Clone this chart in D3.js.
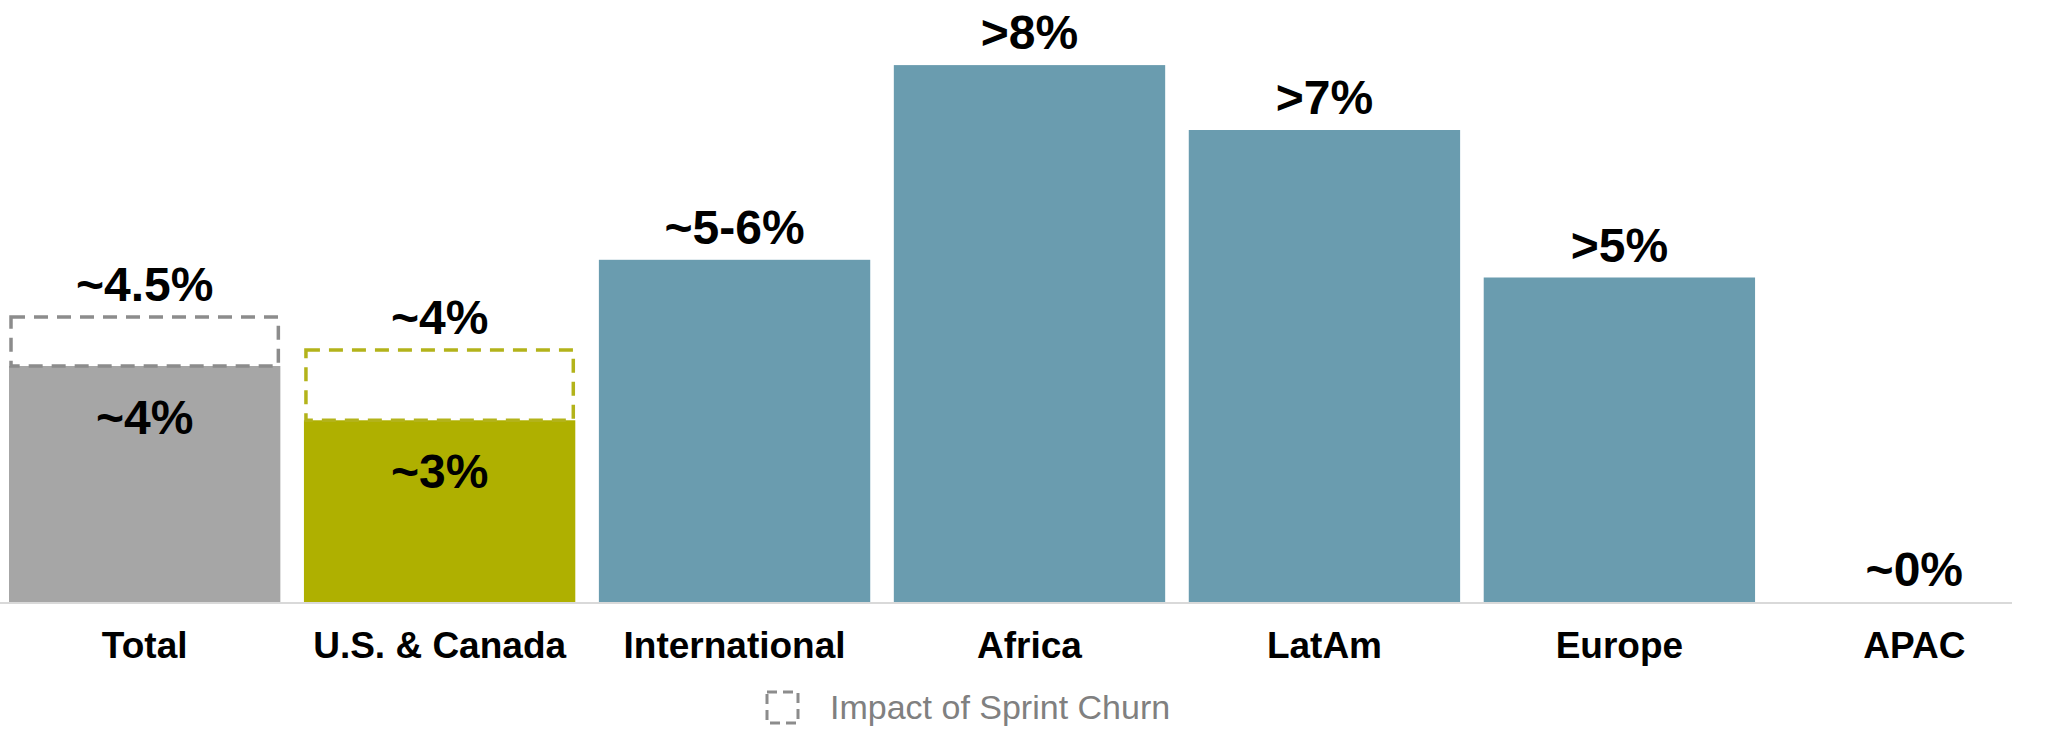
<!DOCTYPE html>
<html><head><meta charset="utf-8">
<script src="https://cdn.jsdelivr.net/npm/d3@7"></script>
<style>body{margin:0;background:#fff}</style></head>
<body><svg id="c" width="2048" height="736"></svg>
<script>
// data
const categories = ["Total", "U.S. & Canada", "International", "Africa", "LatAm", "Europe", "APAC"];
const values = [4.0, 3.08, 5.8, 9.1, 8.0, 5.5, 0];
const churnValues = [4.83, 4.27, null, null, null, null, null];
const topLabels = ["~4.5%", "~4%", "~5-6%", ">8%", ">7%", ">5%", "~0%"];
const innerLabels = ["~4%", "~3%", null, null, null, null, null];
const colors = ["#a6a6a6", "#afb000", "#6a9caf", "#6a9caf", "#6a9caf", "#6a9caf", "#6a9caf"];
const dashColors = ["#8c8c8c", "#b3b31a"];

const svg = d3.select("#c");
const base = 602;
const x = d3.scaleBand().domain(categories).range([9, 2050]).paddingInner(0.08).paddingOuter(0);
const y = d3.scaleLinear().domain([0, 10]).range([base, base - 590]);
const font = "'Liberation Sans',Arial,sans-serif";

// bars
svg.selectAll("rect.bar").data(categories).enter().append("rect")
  .attr("x", d => x(d)).attr("width", x.bandwidth())
  .attr("y", (d, i) => y(values[i])).attr("height", (d, i) => base - y(values[i]))
  .attr("fill", (d, i) => colors[i]);

// dashed churn boxes
categories.forEach((d, i) => {
  if (churnValues[i] == null) return;
  svg.append("rect")
    .attr("x", x(d) + 2).attr("width", x.bandwidth() - 4)
    .attr("y", y(churnValues[i])).attr("height", y(values[i]) - y(churnValues[i]))
    .attr("fill", "none").attr("stroke", dashColors[i])
    .attr("stroke-width", 3.5).attr("stroke-dasharray", "14,9");
});

// baseline
svg.append("line").attr("x1", 0).attr("x2", 2012).attr("y1", base + 1).attr("y2", base + 1)
  .attr("stroke", "#d9d9d9").attr("stroke-width", 2);

// top labels
svg.selectAll("text.top").data(categories).enter().append("text")
  .attr("x", d => x(d) + x.bandwidth() / 2)
  .attr("y", (d, i) => y(churnValues[i] != null ? churnValues[i] : values[i]) - 16)
  .attr("text-anchor", "middle").attr("font-family", font).attr("font-weight", "bold")
  .attr("font-size", 48).attr("fill", "#000").text((d, i) => topLabels[i]);

// inner labels
categories.forEach((d, i) => {
  if (!innerLabels[i]) return;
  svg.append("text").attr("x", x(d) + x.bandwidth() / 2).attr("y", y(values[i]) + 68)
    .attr("text-anchor", "middle").attr("font-family", font).attr("font-weight", "bold")
    .attr("font-size", 48).attr("fill", "#000").text(innerLabels[i]);
});

// category axis
svg.append("g").attr("transform", `translate(0,${base})`)
  .call(d3.axisBottom(x).tickSize(0).tickPadding(30))
  .call(g => g.select(".domain").remove())
  .selectAll("text").attr("font-family", font)
  .attr("font-weight", "bold").attr("font-size", 37).attr("fill", "#000");

// legend
svg.append("rect").attr("x", 767).attr("y", 692).attr("width", 31).attr("height", 31)
  .attr("fill", "none").attr("stroke", "#8c8c8c").attr("stroke-width", 3).attr("stroke-dasharray", "10,6");
svg.append("text").attr("x", 830).attr("y", 719).attr("font-family", font)
  .attr("font-size", 34).attr("fill", "#808080").text("Impact of Sprint Churn");
</script></body></html>
